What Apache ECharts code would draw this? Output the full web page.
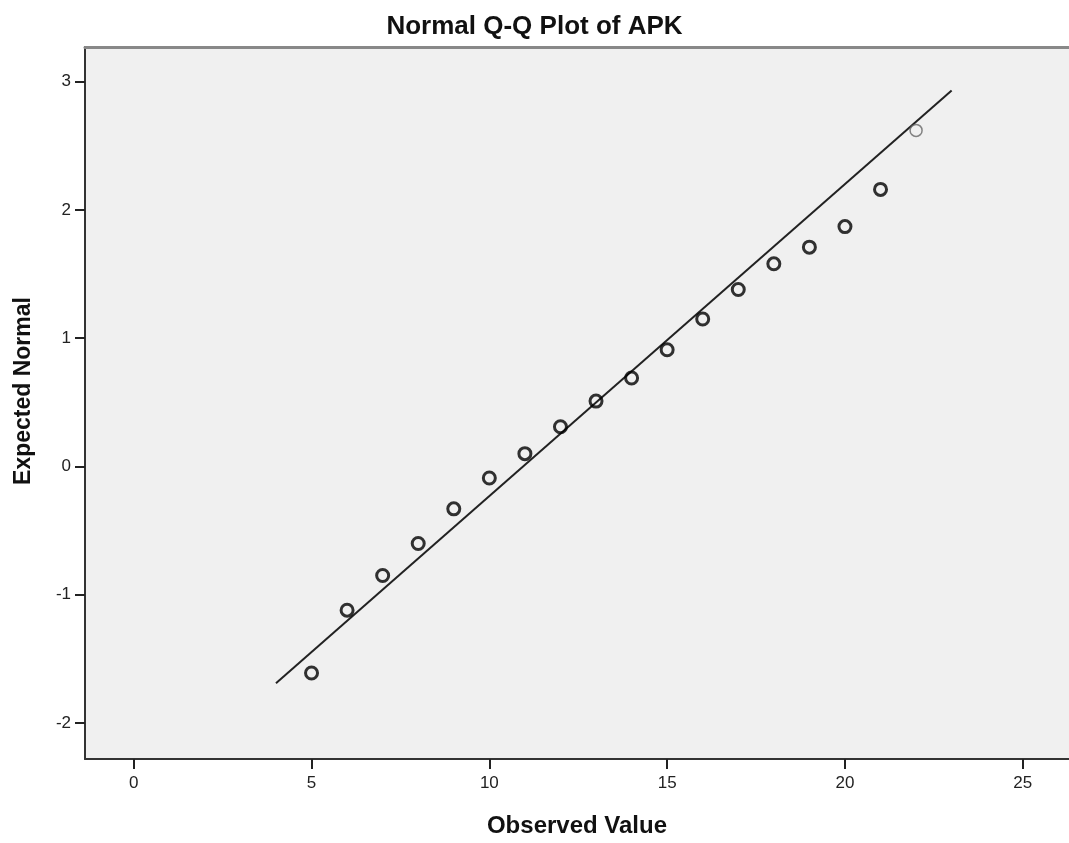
<!DOCTYPE html>
<html>
<head>
<meta charset="utf-8">
<script src="https://cdn.jsdelivr.net/npm/echarts@6/dist/echarts.min.js"></script>
<style>
  html, body { margin: 0; padding: 0; background: #fff; }
  #chart { width: 1069px; height: 843px; }
</style>
</head>
<body>
<div id="chart"></div>
<script>
// observed values and expected normal quantiles
const observed = [5, 6, 7, 8, 9, 10, 11, 12, 13, 14, 15, 16, 17, 18, 19, 20, 21];
const expected = [-1.61, -1.12, -0.85, -0.60, -0.33, -0.09, 0.10, 0.31, 0.51, 0.69, 0.91, 1.15, 1.38, 1.58, 1.71, 1.87, 2.16];
// last point is drawn lighter in the original
const lastObserved = [22];
const lastExpected = [2.62];
// reference line end points
const refLineX = [4, 23];
const refLineY = [-1.69, 2.93];
const xTicks = [0, 5, 10, 15, 20, 25];
const yTicks = [-2, -1, 0, 1, 2, 3];

const chart = echarts.init(document.getElementById('chart'));

const labelFont = { fontFamily: 'Liberation Sans', fontSize: 17, color: '#222' };

chart.setOption({
  animation: false,
  title: {
    text: 'Normal Q-Q Plot of APK',
    left: 'center',
    top: 9,
    textStyle: { fontFamily: 'Liberation Sans', fontSize: 26, fontWeight: 'bold', color: '#111' }
  },
  grid: {
    left: 85, right: 0, top: 47, bottom: 84,
    show: true, backgroundColor: '#f0f0f0', borderWidth: 0
  },
  xAxis: [{
    type: 'value',
    min: -1.37, max: 26.3,
    name: 'Observed Value',
    nameLocation: 'middle',
    nameGap: 55,
    nameTextStyle: { fontFamily: 'Liberation Sans', fontSize: 24, fontWeight: 'bold', color: '#111' },
    splitLine: { show: false },
    axisLine: { show: true, onZero: false, lineStyle: { color: '#333', width: 2 } },
    axisTick: { show: true, length: 10, customValues: xTicks, lineStyle: { color: '#222', width: 2 } },
    axisLabel: { customValues: xTicks, margin: 16, ...labelFont }
  }, {
    type: 'value',
    position: 'top',
    min: -1.37, max: 26.3,
    splitLine: { show: false },
    axisLine: { show: true, onZero: false, lineStyle: { color: '#888', width: 3 } },
    axisTick: { show: false },
    axisLabel: { show: false }
  }],
  yAxis: {
    type: 'value',
    min: -2.28, max: 3.27,
    name: 'Expected Normal',
    nameLocation: 'middle',
    nameGap: 50,
    nameTextStyle: { fontFamily: 'Liberation Sans', fontSize: 23, fontWeight: 'bold', color: '#111', padding: [0, 0, 0, 24] },
    splitLine: { show: false },
    axisLine: { show: true, onZero: false, lineStyle: { color: '#333', width: 2 } },
    axisTick: { show: true, length: 10, customValues: yTicks, lineStyle: { color: '#222', width: 2 } },
    axisLabel: { customValues: yTicks, margin: 14, ...labelFont }
  },
  series: [{
    type: 'line',
    data: refLineX.map((x, i) => [x, refLineY[i]]),
    symbol: 'none',
    lineStyle: { color: '#222', width: 2 },
    z: 2
  }, {
    type: 'scatter',
    data: observed.map((x, i) => [x, expected[i]]),
    symbol: 'circle',
    symbolSize: 12,
    itemStyle: { color: 'rgba(240,240,240,0)', borderColor: '#000', borderWidth: 3 },
    z: 3
  }, {
    type: 'scatter',
    data: lastObserved.map((x, i) => [x, lastExpected[i]]),
    symbol: 'circle',
    symbolSize: 12,
    itemStyle: { color: 'rgba(240,240,240,0)', borderColor: '#666', borderWidth: 1.5 },
    z: 3
  }]
});
</script>
</body>
</html>
